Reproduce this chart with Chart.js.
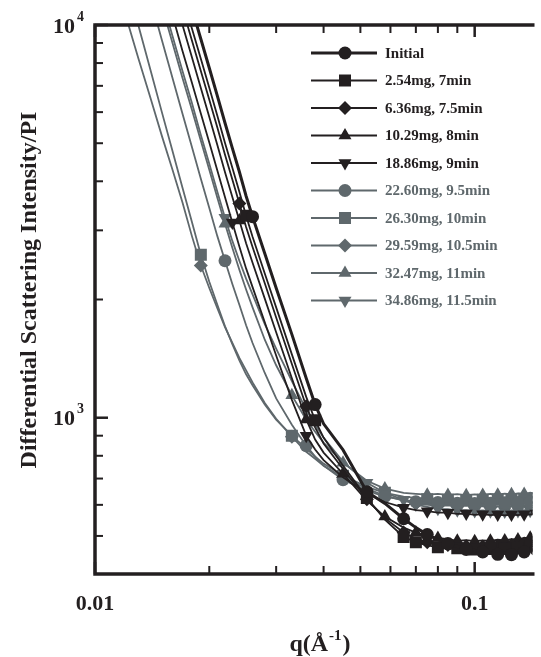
<!DOCTYPE html>
<html>
<head>
<meta charset="utf-8">
<script src="https://cdn.jsdelivr.net/npm/chart.js@4.4.0/dist/chart.umd.min.js"></script>
<style>
    html, body { margin: 0; padding: 0; background: #fff; overflow: hidden; }
    canvas { display: block; }
</style>
</head>
<body>
<canvas id="myChart" width="541" height="657"></canvas>
<script>
// q grid (1/Å) shared by every curve, null = outside the plotted range
const q = [0.012, 0.013, 0.014, 0.015, 0.016, 0.017, 0.018, 0.019, 0.020, 0.021, 0.022, 0.023, 0.024, 0.025,
    0.026, 0.028, 0.030, 0.033, 0.036, 0.038, 0.040, 0.045, 0.052, 0.058, 0.065, 0.070, 0.075, 0.080,
    0.085, 0.090, 0.095, 0.100, 0.105, 0.110, 0.115, 0.120, 0.125, 0.130, 0.135, 0.140, 0.145];

const initial = [null, null, null, null, null, 13300, 11000, 9210, 7770, 6600, 5630, 4860, 4230, 3670, 3250,
    2620, 2140, 1630, 1260, 1080, 965, 828, 648, 605, 553, 525, 504, 489, 478, 470, 462, 459, 455, 454, 449,
    452, 448, 453, 455, 460, 462];
const mg254 = [null, null, null, null, null, 11840, 9790, 8200, 6920, 5870, 5010, 4330, 3760, 3270, 2890,
    2330, 1910, 1450, 1130, 985, 890, 755, 625, 550, 497, 482, 473, 468, 463, 465, 460, 462, 458, 463, 460,
    464, 461, 466, 465, 471, 470];
const mg636 = [null, null, null, null, 13580, 11040, 9130, 7640, 6450, 5480, 4670, 4040, 3510, 3060, 2720,
    2200, 1800, 1370, 1070, 945, 860, 740, 620, 555, 510, 492, 482, 476, 474, 470, 471, 468, 470, 469, 472,
    470, 474, 473, 478, 479, 484];
const mg1029 = [null, null, null, null, 12270, 10000, 8280, 6910, 5830, 4950, 4220, 3650, 3180, 2780, 2480,
    2010, 1650, 1260, 990, 880, 815, 720, 615, 560, 525, 510, 500, 494, 491, 486, 488, 485, 487, 486, 489,
    487, 491, 490, 494, 495, 500];
const mg1886 = [null, null, null, 13130, 10570, 8590, 7130, 5950, 5020, 4260, 3640, 3140, 2730, 2400, 2150,
    1750, 1440, 1110, 900, 830, 780, 705, 640, 610, 590, 582, 578, 573, 573, 569, 570, 566, 568, 565, 567,
    564, 567, 565, 568, 567, 570];
const mg2260 = [null, null, 11650, 9160, 7330, 5940, 4890, 4060, 3420, 2900, 2510, 2190, 1940, 1720, 1550,
    1300, 1120, 960, 849, 796, 755, 695, 652, 630, 618, 611, 606, 608, 603, 606, 601, 605, 600, 606, 602,
    607, 603, 608, 605, 610, 607];
const mg2630 = [13250, 10000, 7680, 6000, 4780, 3850, 3150, 2600, 2220, 1940, 1710, 1540, 1400, 1290, 1210,
    1080, 988, 900, 834, 796, 764, 712, 667, 644, 630, 625, 620, 623, 618, 622, 617, 621, 618, 622, 619,
    623, 620, 625, 622, 627, 624];
const mg2959 = [10700, 8240, 6520, 5220, 4280, 3530, 2900, 2440, 2140, 1900, 1700, 1550, 1420, 1320, 1230,
    1090, 994, 895, 819, 786, 755, 704, 660, 633, 615, 605, 601, 596, 598, 594, 597, 593, 596, 592, 595,
    593, 596, 594, 597, 596, 599];
const mg3247 = [null, null, null, 11180, 9000, 7330, 6080, 5070, 4280, 3630, 3120, 2710, 2380, 2120, 1910,
    1580, 1360, 1140, 988, 921, 864, 768, 691, 660, 644, 640, 637, 640, 636, 639, 635, 638, 636, 640, 637,
    641, 638, 642, 639, 644, 641];
const mg3486 = [null, null, null, 11650, 9380, 7640, 6330, 5250, 4430, 3760, 3230, 2820, 2510, 2260, 2060,
    1730, 1500, 1240, 1048, 960, 889, 773, 683, 644, 618, 601, 593, 586, 585, 581, 582, 579, 581, 578, 580,
    577, 581, 579, 582, 580, 584];

// q values where each curve carries a symbol
const markInitial = [0.026, 0.038, 0.052, 0.065, 0.075, 0.085, 0.095, 0.105, 0.115, 0.125, 0.135, 0.145];
const mark254 = [0.025, 0.038, 0.052, 0.065, 0.070, 0.080, 0.090, 0.100, 0.110, 0.120, 0.130, 0.140];
const mark636 = [0.024, 0.036, 0.052, 0.065, 0.075, 0.085, 0.095, 0.105, 0.115, 0.125, 0.135, 0.145];
const mark1029 = [0.024, 0.036, 0.045, 0.058, 0.070, 0.080, 0.090, 0.100, 0.110, 0.120, 0.130, 0.140];
const mark1886 = [0.023, 0.036, 0.052, 0.065, 0.075, 0.085, 0.095, 0.105, 0.115, 0.125, 0.135, 0.145];
const mark2260 = [0.022, 0.036, 0.045, 0.058, 0.070, 0.080, 0.090, 0.100, 0.110, 0.120, 0.130, 0.140];
const mark2630 = [0.019, 0.033, 0.045, 0.058, 0.075, 0.085, 0.095, 0.105, 0.115, 0.125, 0.135, 0.145];
const mark2959 = [0.019, 0.033, 0.045, 0.058, 0.070, 0.080, 0.090, 0.100, 0.110, 0.120, 0.130, 0.140];
const mark3247 = [0.022, 0.033, 0.045, 0.058, 0.075, 0.085, 0.095, 0.105, 0.115, 0.125, 0.135, 0.145];
const mark3486 = [0.022, 0.036, 0.052, 0.065, 0.070, 0.080, 0.090, 0.100, 0.110, 0.120, 0.130, 0.140];

const seriesLabels = ['Initial', '2.54mg, 7min', '6.36mg, 7.5min', '10.29mg, 8min', '18.86mg, 9min',
    '22.60mg, 9.5min', '26.30mg, 10min', '29.59mg, 10.5min', '32.47mg, 11min', '34.86mg, 11.5min'];

// axis ticks
const xMajor = [0.01, 0.1];
const xMinor = [0.02, 0.03, 0.04, 0.05, 0.06, 0.07, 0.08, 0.09];
const yMajor = [1000, 10000];
const yMajorExp = ['3', '4'];
const yMinor = [500, 600, 700, 800, 900, 2000, 3000, 4000, 5000, 6000, 7000, 8000, 9000];

const black = '#231f20';
const gray = '#5f686c';
const serif = '"Liberation Serif", "Times New Roman", serif';

const values = [initial, mg254, mg636, mg1029, mg1886, mg2260, mg2630, mg2959, mg3247, mg3486];
const marks = [markInitial, mark254, mark636, mark1029, mark1886, mark2260, mark2630, mark2959, mark3247, mark3486];
const shapes = ['circle', 'rect', 'rectRot', 'triangle', 'triangleDown',
    'circle', 'rect', 'rectRot', 'triangle', 'triangleDown'];
const pointSize = { circle: 6.5, rect: 8.5, rectRot: 7, triangle: 7.5, triangleDown: 7.5 };

const datasets = values.map((arr, i) => {
    const color = i < 5 ? black : gray;
    const shape = shapes[i];
    const r = pointSize[shape];
    return {
        label: seriesLabels[i],
        data: q.map((x, k) => ({ x: x, y: arr[k] })).filter((p) => p.y !== null),
        borderColor: color,
        backgroundColor: color,
        borderWidth: i === 0 ? 3 : 1.8,
        pointStyle: shape === 'triangleDown' ? 'triangle' : shape,
        pointRotation: shape === 'triangleDown' ? 180 : 0,
        pointRadius: (ctx) => (ctx.raw && marks[i].includes(ctx.raw.x) ? r : 0),
        pointBackgroundColor: color,
        pointBorderColor: color,
        pointBorderWidth: 0,
        tension: 0,
        clip: 0,
    };
});

// draw one legend symbol
const drawSymbol = (ctx, shape, x, y) => {
    ctx.beginPath();
    if (shape === 'circle') {
        ctx.arc(x, y, 6.5, 0, Math.PI * 2);
    } else if (shape === 'rect') {
        ctx.rect(x - 6, y - 6, 12, 12);
    } else if (shape === 'rectRot') {
        ctx.moveTo(x, y - 7);
        ctx.lineTo(x + 7, y);
        ctx.lineTo(x, y + 7);
        ctx.lineTo(x - 7, y);
    } else {
        const d = shape === 'triangle' ? 1 : -1;
        const r = 7.5;
        ctx.moveTo(x, y - d * r);
        ctx.lineTo(x + r * 0.866, y + d * r * 0.5);
        ctx.lineTo(x - r * 0.866, y + d * r * 0.5);
    }
    ctx.closePath();
    ctx.fill();
};

const frame = {
    id: 'frame',
    afterDatasetsDraw(chart) {
        const { ctx, chartArea: a } = chart;
        const xs = chart.scales.x;
        const ys = chart.scales.y;
        ctx.save();
        ctx.strokeStyle = black;
        ctx.fillStyle = black;

        // box (right side is cut off by the window)
        ctx.lineWidth = 3.5;
        ctx.beginPath();
        ctx.moveTo(a.right + 2, a.top);
        ctx.lineTo(a.left, a.top);
        ctx.lineTo(a.left, a.bottom);
        ctx.lineTo(a.right + 2, a.bottom);
        ctx.stroke();

        // inward ticks
        const tick = (v, len, w, axis) => {
            ctx.lineWidth = w;
            ctx.beginPath();
            if (axis === 'x') {
                const px = xs.getPixelForValue(v);
                ctx.moveTo(px, a.bottom);
                ctx.lineTo(px, a.bottom - len);
                ctx.moveTo(px, a.top);
                ctx.lineTo(px, a.top + len);
            } else {
                const py = ys.getPixelForValue(v);
                ctx.moveTo(a.left, py);
                ctx.lineTo(a.left + len, py);
            }
            ctx.stroke();
        };
        xMinor.forEach((v) => tick(v, 8, 2, 'x'));
        xMajor.forEach((v) => tick(v, 12, 2.5, 'x'));
        yMinor.forEach((v) => tick(v, 8, 2, 'y'));
        yMajor.forEach((v) => tick(v, 13, 2.5, 'y'));

        // y tick labels 10^n
        yMajor.forEach((v, i) => {
            const py = ys.getPixelForValue(v);
            ctx.font = 'bold 22px ' + serif;
            ctx.textAlign = 'right';
            ctx.textBaseline = 'middle';
            ctx.fillText('10', 75, py + 2);
            ctx.font = 'bold 14px ' + serif;
            ctx.textAlign = 'left';
            ctx.fillText(yMajorExp[i], 77, py - 8);
        });

        // x tick labels
        ctx.font = 'bold 22px ' + serif;
        ctx.textAlign = 'center';
        ctx.textBaseline = 'middle';
        xMajor.forEach((v) => {
            ctx.fillText(String(v), xs.getPixelForValue(v), 604);
        });

        // x title q(Å^-1)
        ctx.font = 'bold 24px ' + serif;
        const w1 = ctx.measureText('q(Å').width;
        const w3 = ctx.measureText(')').width;
        ctx.font = 'bold 15px ' + serif;
        const w2 = ctx.measureText('-1').width + 2;
        const tx = 320 - (w1 + w2 + w3) / 2;
        ctx.textAlign = 'left';
        ctx.font = 'bold 24px ' + serif;
        ctx.fillText('q(Å', tx, 645);
        ctx.font = 'bold 15px ' + serif;
        ctx.fillText('-1', tx + w1 + 1, 636);
        ctx.font = 'bold 24px ' + serif;
        ctx.fillText(')', tx + w1 + w2, 645);

        // y title
        ctx.save();
        ctx.translate(30, 290);
        ctx.rotate(-Math.PI / 2);
        ctx.textAlign = 'center';
        ctx.font = 'bold 24px ' + serif;
        ctx.fillText('Differential Scattering Intensity/PI', 0, 0);
        ctx.restore();

        // legend
        seriesLabels.forEach((label, i) => {
            const color = i < 5 ? black : gray;
            const y = 53 + i * 27.5;
            ctx.strokeStyle = color;
            ctx.fillStyle = color;
            ctx.lineWidth = i === 0 ? 3 : 1.8;
            ctx.beginPath();
            ctx.moveTo(311, y);
            ctx.lineTo(377, y);
            ctx.stroke();
            drawSymbol(ctx, shapes[i], 345, y);
            ctx.font = 'bold 15px ' + serif;
            ctx.textAlign = 'left';
            ctx.textBaseline = 'middle';
            ctx.fillText(label, 385, y + 1);
        });
        ctx.restore();
    },
};

new Chart(document.getElementById('myChart'), {
    type: 'line',
    data: { datasets: datasets },
    options: {
        responsive: false,
        animation: false,
        layout: { padding: { left: 95, top: 25, right: 0, bottom: 83 } },
        plugins: { legend: { display: false }, tooltip: { enabled: false } },
        scales: {
            x: { type: 'logarithmic', min: 0.01, max: 0.142, display: false },
            y: { type: 'logarithmic', min: 400, max: 10000, display: false },
        },
    },
    plugins: [frame],
});
</script>
</body>
</html>
